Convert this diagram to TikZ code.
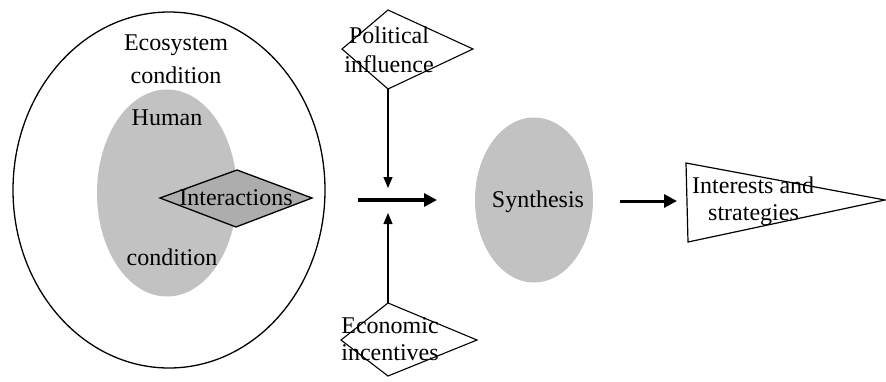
\documentclass[tikz,border=0pt]{standalone}
\usepackage{fontspec}
\setmainfont{Liberation Serif}
\usetikzlibrary{shapes.geometric,arrows.meta}
\begin{document}
\begin{tikzpicture}[x=1pt,y=-1pt,
  lbl/.style={inner sep=0pt,anchor=base,font=\fontsize{24}{28}\selectfont},
  outline/.style={draw=black,line width=1.3pt},
  stipple/.style={fill=black!24},
  thin arrow/.style={draw=black,line width=1.1pt,-{Triangle[length=11pt,width=9pt]}},
  thick arrow/.style={draw=black,line width=3.5pt,-{Triangle[length=13pt,width=13pt]}}]
\useasboundingbox (0,0) rectangle (886,381);
\fill[white] (0,0) rectangle (886,381);
% outer ecosystem ellipse
\node[outline,ellipse,minimum width=312pt,minimum height=356pt,inner sep=0pt] (eco) at (169,190) {};
\node[lbl] (ecoA) at (176,50) {Ecosystem};
\node[lbl] (ecoB) at (176,83) {condition};
% human condition ellipse
\node[stipple,ellipse,minimum width=140pt,minimum height=207pt,inner sep=0pt] (hum) at (167,193) {};
\node[lbl] (humA) at (167,125) {Human};
\node[lbl] (humB) at (172,265) {condition};
% interactions diamond
\coordinate (iL) at (160,198);
\coordinate (iT) at (237,170);
\coordinate (iR) at (312,198);
\coordinate (iB) at (236,227);
\filldraw[outline,fill=black!32] (iL) -- (iT) -- (iR) -- (iB) -- cycle;
\node[lbl] (inter) at (236,205) {Interactions};
% political influence diamond
\coordinate (pL) at (342,49);
\coordinate (pT) at (388,10);
\coordinate (pR) at (473,49);
\coordinate (pB) at (388,89);
\draw[outline,line width=1.1pt] (pL) -- (pT) -- (pR) -- (pB) -- cycle;
\node[lbl] (polA) at (389,43) {Political};
\node[lbl] (polB) at (389,72) {influence};
% economic incentives diamond
\coordinate (eL) at (341,340);
\coordinate (eT) at (388,303);
\coordinate (eR) at (477,340);
\coordinate (eB) at (388,376);
\draw[outline,line width=1.1pt] (eL) -- (eT) -- (eR) -- (eB) -- cycle;
\node[lbl] (ecA) at (390,333) {Economic};
\node[lbl] (ecB) at (390,360) {incentives};
% central arrows
\coordinate (jTop) at (388,188);
\coordinate (jBot) at (388,213);
\coordinate (hS) at (358,200);
\coordinate (hE) at (437,200);
\draw[thin arrow] (pB) -- (jTop);
\draw[thin arrow] (eT) -- (jBot);
\draw[thick arrow] (hS) -- (hE);
% synthesis
\node[stipple,ellipse,minimum width=118pt,minimum height=165pt,inner sep=0pt] (syn) at (534,200) {};
\node[lbl] (synT) at (538,207) {Synthesis};
% pennant
\coordinate (tA) at (686,163);
\coordinate (tB) at (688,242);
\coordinate (tC) at (885,200);
\draw[outline,line width=1.2pt] (tA) -- (tC) -- (tB) -- cycle;
\node[lbl,anchor=base west] (intA) at (692,193) {Interests and};
\node[lbl,anchor=base west] (intB) at (708,220) {strategies};
\coordinate (aS) at (620,201);
\coordinate (aE) at (677,201);
\draw[thick arrow,line width=3pt] (aS) -- (aE);
\end{tikzpicture}
\end{document}
